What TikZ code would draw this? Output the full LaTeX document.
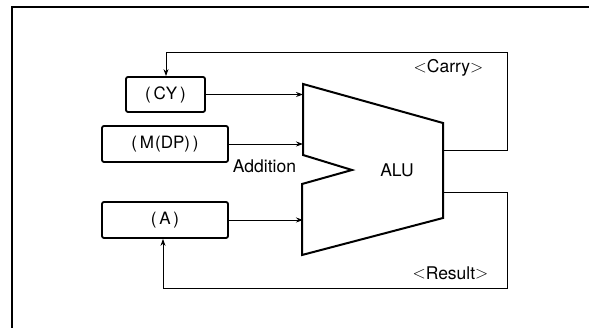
\documentclass[tikz,border=0pt]{standalone}
\usepackage{fontspec}
\setmainfont{TeX Gyre Heros}
\usetikzlibrary{arrows.meta}
\newcommand{\lt}{\raisebox{0.3pt}{$<$}}
\newcommand{\gt}{\raisebox{0.3pt}{$>$}}
\begin{document}
\begin{tikzpicture}[x=1pt,y=-1pt,
  regbox/.style={draw,line width=1.8pt,rounded corners=2pt,inner sep=0pt},
  conn/.style={line width=0.9pt,-{Stealth[length=7pt,width=5pt]}},
  lbl/.style={inner sep=0pt,font=\fontsize{17}{19}\selectfont},
  txt/.style={inner sep=0pt,font=\fontsize{17.5}{19}\selectfont}]
\useasboundingbox (0,0) rectangle (589,328);
% frame
\draw[line width=1.5pt] (12,328) -- (12,7);
\draw[line width=2.5pt] (11.25,7) -- (589,7);
% registers
\node[regbox,minimum width=79pt,minimum height=35pt] (cy) at (165.5,94.5) {};
\node[lbl] at (cy.center) {(\,CY\,)};
\node[regbox,minimum width=126pt,minimum height=36pt] (mdp) at (165,144) {};
\node[lbl] at (mdp.center) {(\,M\kern1pt(DP)\,)};
\node[regbox,minimum width=126pt,minimum height=36pt] (a) at (165,220) {};
\node[lbl] at (a.center) {(\,A\,)};
% ALU
\coordinate (tl) at (303,84);
\coordinate (tr) at (443,123);
\coordinate (br) at (443,218);
\coordinate (bl) at (302,255);
\coordinate (nl) at (302,184);
\coordinate (np) at (352,170);
\coordinate (nu) at (303,155);
\draw[line width=2pt,line join=miter] (tl) -- (tr) -- (br) -- (bl) -- (nl) -- (np) -- (nu) -- cycle;
\node[txt] (alu) at (397,170) {ALU};
\coordinate (aL) at (303,0);
% inputs
\draw[conn] (cy.east) -- (cy.east -| aL);
\draw[conn] (mdp.east) -- (mdp.east -| aL);
\draw[conn] (a.east) -- (a.east -| aL);
\node[txt] (add) at (264.5,166) {Addition};
% carry loop
\coordinate (co) at (443,150);
\coordinate (cr) at (507,52);
\coordinate (ct) at (166,52);
\draw[conn] (co) -- (co -| cr) -- (cr) -- (ct) -- (ct |- cy.north);
\node[txt] (carry) at (448.5,68) {\lt Carry\gt};
% result loop
\coordinate (ro) at (443,192);
\coordinate (rr) at (507,288);
\coordinate (rl) at (163,288);
\draw[conn] (ro) -- (ro -| rr) -- (rr) -- (rl) -- (rl |- a.south);
\node[txt] (result) at (450.5,273) {\lt Result\gt};
\end{tikzpicture}
\end{document}
